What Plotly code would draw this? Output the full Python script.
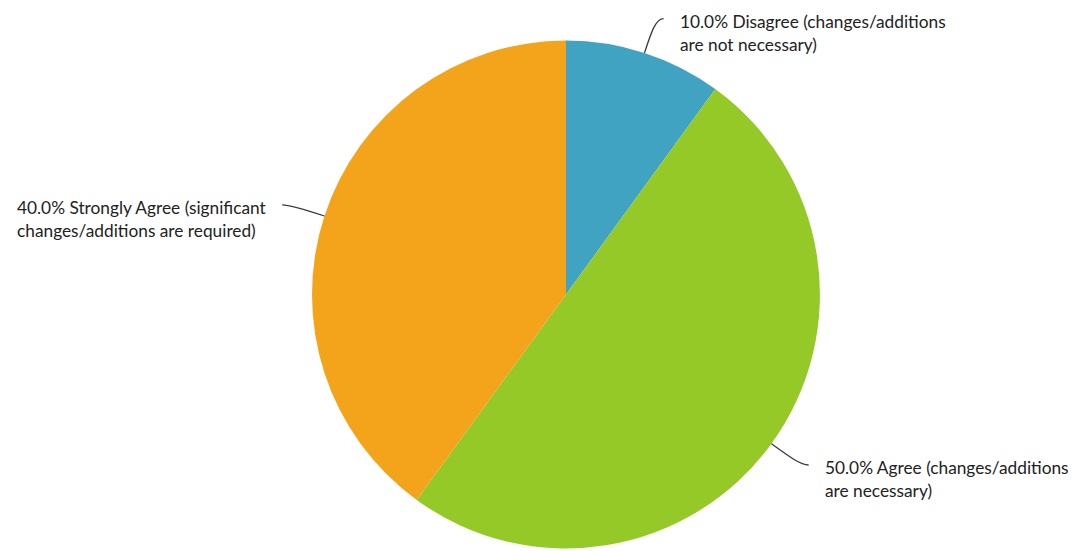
import math
import plotly.graph_objects as go

# Survey responses
labels = [
    "Disagree (changes/additions are not necessary)",
    "Agree (changes/additions are necessary)",
    "Strongly Agree (significant changes/additions are required)",
]
values = [10.0, 50.0, 40.0]
label_lines = [
    ["Disagree (changes/additions", "are not necessary)"],
    ["Agree (changes/additions", "are necessary)"],
    ["Strongly Agree (significant", "changes/additions are required)"],
]
colors = ["#41A3C2", "#95C928", "#F4A41B"]

W, H = 1076, 551
CX, CY, R = 566.0, 294.5, 254.0
FONT = "Lato, 'Open Sans', sans-serif"
TEXT_COLOR = "#222222"

fig = go.Figure()

fig.add_trace(go.Pie(
    labels=labels,
    values=values,
    sort=False,
    direction="clockwise",
    rotation=0,
    marker=dict(colors=colors, line=dict(width=0)),
    textinfo="none",
    hoverinfo="label+percent",
    showlegend=False,
    domain=dict(x=[(CX - R) / W, (CX + R) / W],
                y=[(H - CY - R) / H, (H - CY + R) / H]),
))

# Invisible pixel-space axes used to place leader lines and labels
fig.update_xaxes(range=[0, W], visible=False, fixedrange=True)
fig.update_yaxes(range=[H, 0], visible=False, fixedrange=True)

total = sum(values)
shapes = []
annotations = []
cum = 0.0
for val, lines in zip(values, label_lines):
    mid = (cum + val / 2) / total * 2 * math.pi
    cum += val
    dx, dy = math.sin(mid), -math.cos(mid)
    side = 1 if dx >= 0 else -1
    sx, sy = CX + R * dx, CY + R * dy
    c1x, c1y = CX + (R + 22) * dx, CY + (R + 22) * dy
    c2x, c2y = CX + (R + 36) * dx, CY + (R + 36) * dy
    ex, ey = c2x + side * 8, c2y
    shapes.append(dict(
        type="path", xref="x", yref="y",
        path=f"M {sx:.1f},{sy:.1f} C {c1x:.1f},{c1y:.1f} {c2x:.1f},{c2y:.1f} {ex:.1f},{ey:.1f}",
        line=dict(color="#3a3a3a", width=1.3),
    ))
    pct = f"{val / total * 100:.1f}%"
    texts = [f"{pct} {lines[0]}", lines[1]]
    # labels on the left side start at the page's left edge, block left-aligned
    tx = ex + 14 if side > 0 else 15
    for i, t in enumerate(texts):
        annotations.append(dict(
            x=tx, y=ey + 3 + i * 22.5, xref="x", yref="y",
            text=t, showarrow=False,
            xanchor="left", yanchor="middle", align="left",
            font=dict(family=FONT, size=17.3, color=TEXT_COLOR),
        ))

fig.update_layout(
    width=W, height=H,
    margin=dict(l=0, r=0, t=0, b=0),
    paper_bgcolor="white",
    plot_bgcolor="white",
    shapes=shapes,
    annotations=annotations,
)

fig.write_html("out.html")
